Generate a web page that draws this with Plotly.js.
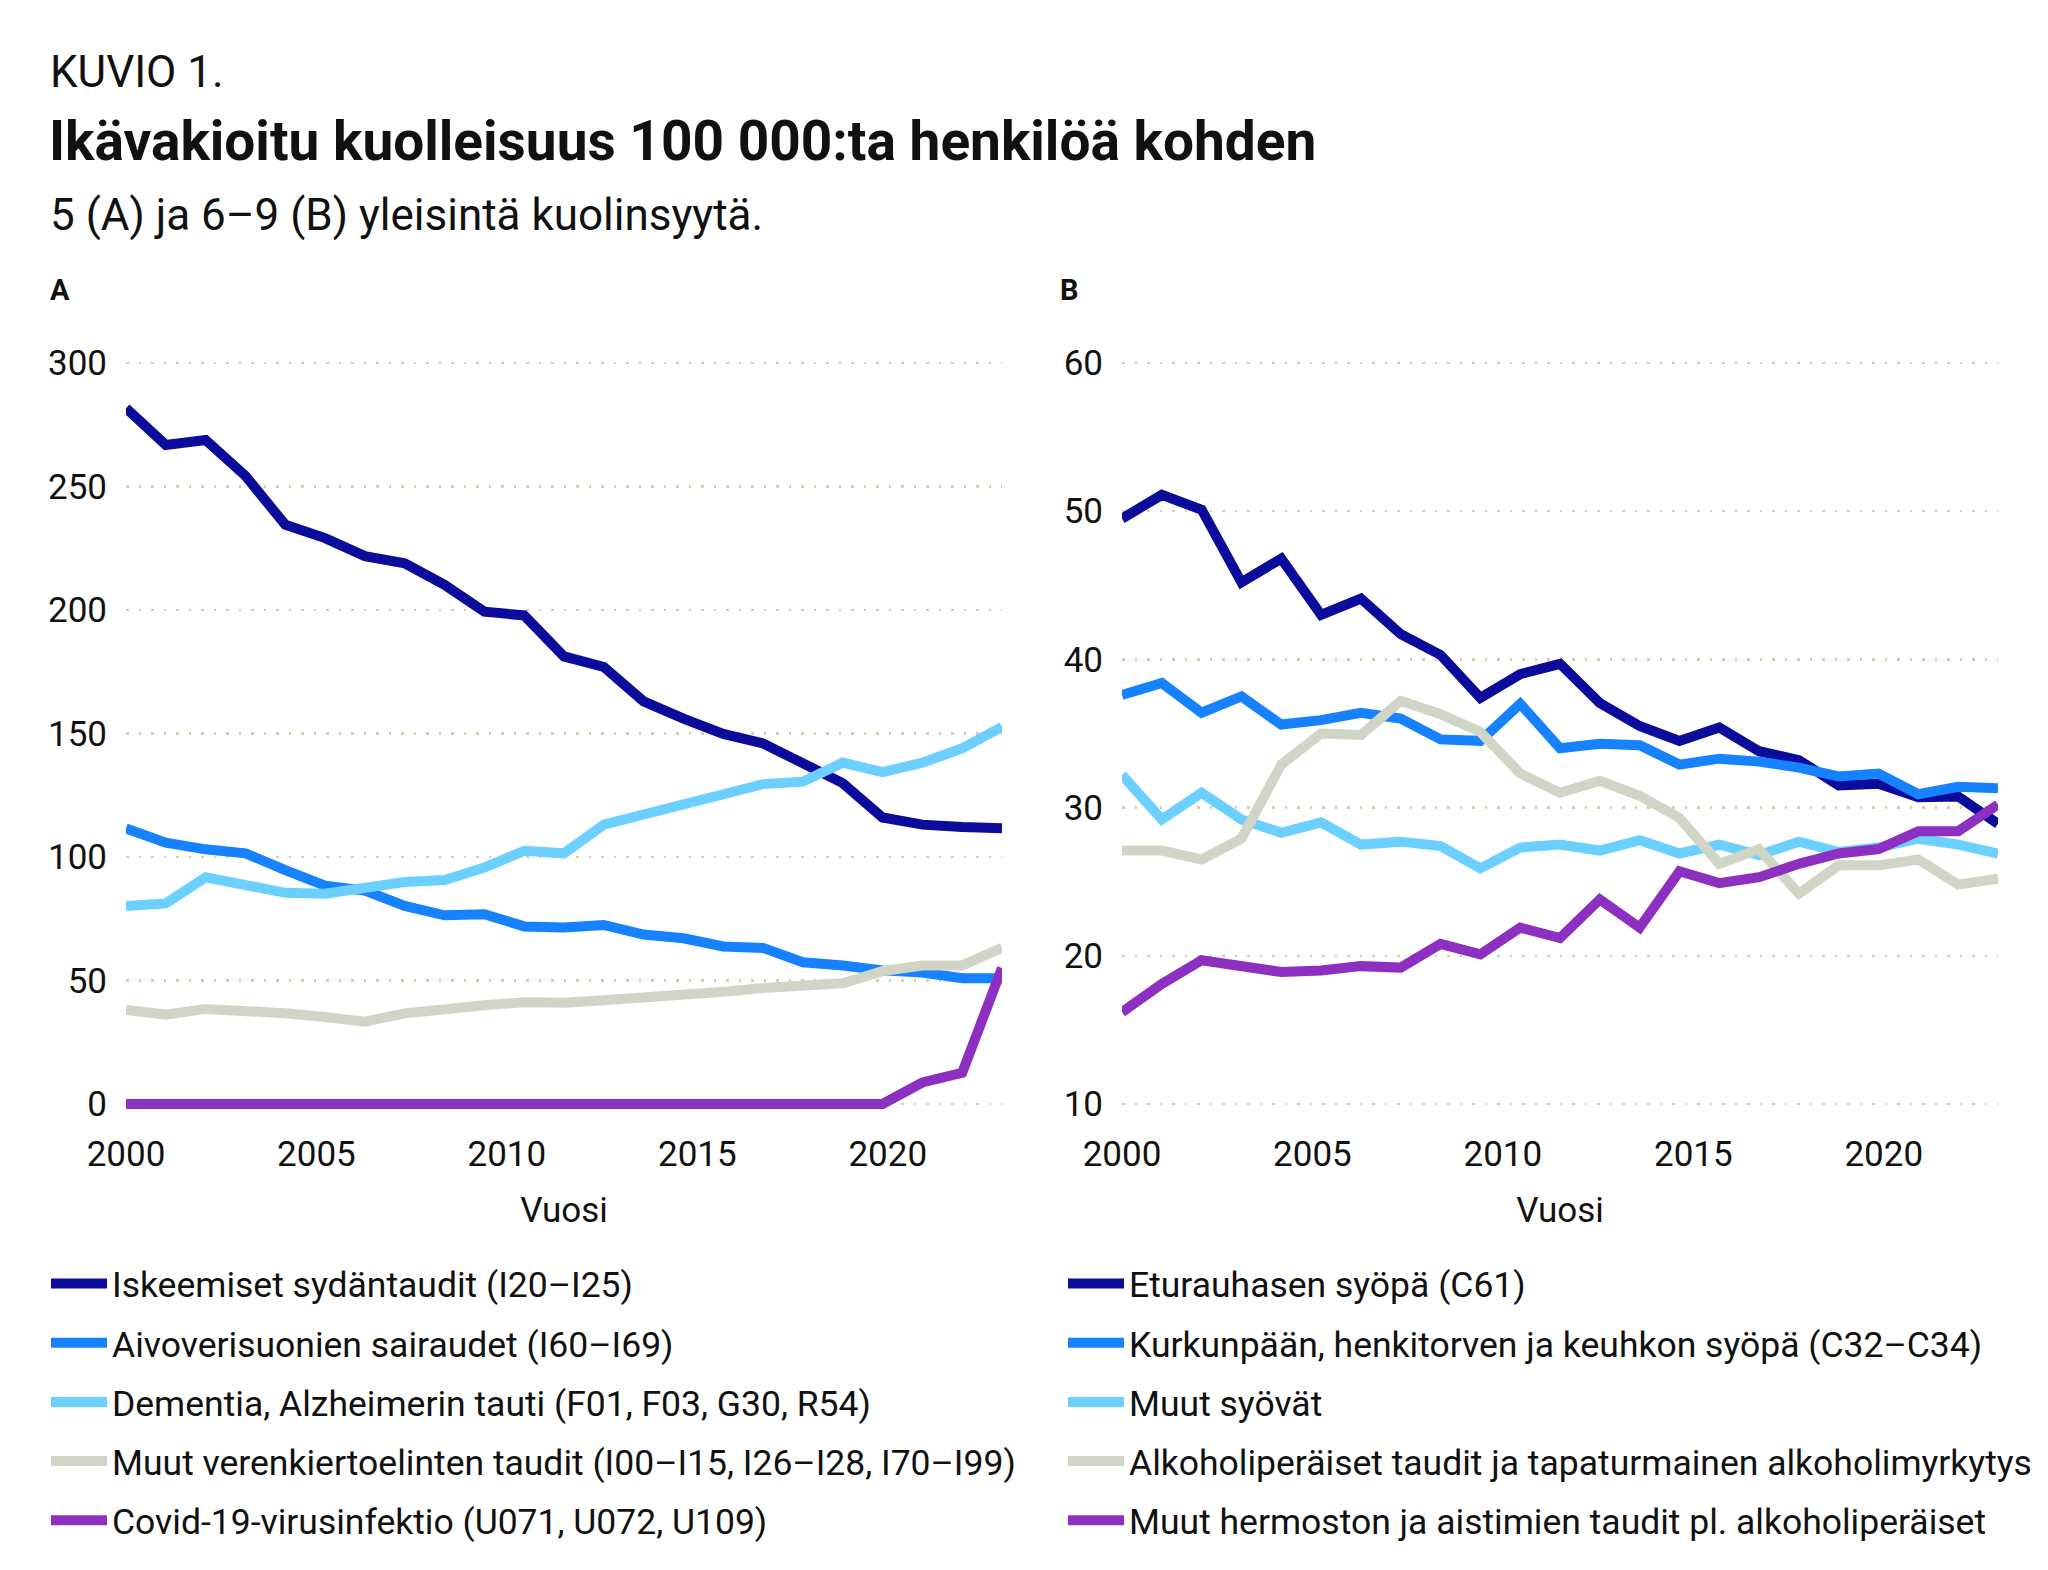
<!DOCTYPE html>
<html>
<head>
<meta charset="utf-8">
<script src="https://cdn.plot.ly/plotly-3.0.1.min.js"></script>
<style>
  html, body { margin: 0; padding: 0; background: #ffffff; }
  #chart { width: 2048px; height: 1570px; }
</style>
</head>
<body>
<div id="chart"></div>
<script>
// ---- Data ----
const years = [2000, 2001, 2002, 2003, 2004, 2005, 2006, 2007, 2008, 2009, 2010, 2011,
               2012, 2013, 2014, 2015, 2016, 2017, 2018, 2019, 2020, 2021, 2022];
const tickYears = [2000, 2005, 2010, 2015, 2020];

// Panel A
const namesA = [
  "Iskeemiset sydäntaudit (I20–I25)",
  "Aivoverisuonien sairaudet (I60–I69)",
  "Dementia, Alzheimerin tauti (F01, F03, G30, R54)",
  "Muut verenkiertoelinten taudit (I00–I15, I26–I28, I70–I99)",
  "Covid-19-virusinfektio (U071, U072, U109)"
];
const ischemic = [281.7, 266.8, 268.8, 254.3, 234.5, 229.1, 221.8, 218.9, 210.2, 199.3, 197.8, 181.2,
                  176.9, 163.0, 156.0, 149.8, 146.0, 138.2, 129.9, 116.0, 113.1, 112.1, 111.6];
const stroke = [111.6, 105.8, 103.1, 101.5, 94.7, 88.4, 86.4, 80.2, 76.4, 76.8, 71.9, 71.5,
                72.5, 68.6, 67.1, 63.8, 63.2, 57.4, 56.1, 54.1, 53.2, 50.9, 50.9];
const dementia = [80.2, 81.2, 91.8, 88.9, 85.5, 85.1, 88.0, 89.9, 90.7, 95.7, 102.5, 101.5,
                  113.1, 117.4, 121.8, 125.1, 129.5, 130.5, 138.2, 134.4, 138.2, 144.0, 152.7];
const otherCirc = [38.1, 36.2, 38.5, 38.1, 36.7, 35.2, 33.3, 36.7, 38.7, 40.0, 41.2, 41.0,
                   42.0, 42.9, 44.5, 45.4, 47.0, 48.3, 48.9, 53.8, 56.1, 56.1, 63.2];
const covid = [0, 0, 0, 0, 0, 0, 0, 0, 0, 0, 0, 0,
               0, 0, 0, 0, 0, 0, 0, 0, 8.7, 12.6, 55.1];
const ticksA = [0, 50, 100, 150, 200, 250, 300];

// Panel B
const namesB = [
  "Eturauhasen syöpä (C61)",
  "Kurkunpään, henkitorven ja keuhkon syöpä (C32–C34)",
  "Muut syövät",
  "Alkoholiperäiset taudit ja tapaturmainen alkoholimyrkytys",
  "Muut hermoston ja aistimien taudit pl. alkoholiperäiset"
];
const prostate = [49.5, 51.1, 50.1, 45.2, 46.8, 43.0, 44.1, 41.7, 40.3, 37.4, 39.0, 39.7,
                  37.05, 35.5, 34.5, 35.4, 33.8, 33.2, 31.5, 31.6, 30.7, 30.75, 28.9];
const lung = [37.6, 38.4, 36.4, 37.5, 35.6, 35.9, 36.4, 36.0, 34.6, 34.5, 37.0, 34.0,
              34.3, 34.2, 32.9, 33.3, 33.1, 32.7, 32.1, 32.3, 30.9, 31.4, 31.3];
const otherCancer = [32.2, 29.2, 31.0, 29.2, 28.3, 29.0, 27.5, 27.7, 27.4, 25.9, 27.3, 27.5,
                     27.1, 27.8, 26.9, 27.5, 26.8, 27.7, 27.0, 27.3, 27.9, 27.5, 26.9];
const alcohol = [27.1, 27.1, 26.5, 27.9, 32.9, 35.0, 34.9, 37.2, 36.3, 35.1, 32.3, 31.0,
                 31.8, 30.8, 29.3, 26.2, 27.2, 24.2, 26.1, 26.1, 26.5, 24.8, 25.2];
const nervous = [16.2, 18.1, 19.7, 19.3, 18.9, 19.0, 19.3, 19.2, 20.8, 20.1, 21.9, 21.2,
                 23.8, 21.9, 25.7, 24.9, 25.3, 26.2, 26.9, 27.2, 28.4, 28.4, 30.2];
const ticksB = [10, 20, 30, 40, 50, 60];

const colors = ["#0b0b9c", "#1782ff", "#6bd0ff", "#d1d5c5", "#8d2fc0"];

// ---- Styling ----
const FONT = "Roboto, Lato, sans-serif";
const TXT = "#111111";
const W = 2048, H = 1570;
const px = v => v / W;
const py = v => 1 - v / H;

const seriesA = [ischemic, stroke, dementia, otherCirc, covid];
const seriesB = [prostate, lung, otherCancer, alcohol, nervous];

const traces = [];
seriesA.forEach((s, i) => traces.push({
  type: "scatter", mode: "lines", x: years, y: s, name: namesA[i],
  xaxis: "x", yaxis: "y", legend: "legend", legendgroup: "a" + i,
  line: { color: colors[i], width: 10, shape: "linear" }, hoverinfo: "skip"
}));
seriesB.forEach((s, i) => traces.push({
  type: "scatter", mode: "lines", x: years, y: s, name: namesB[i],
  xaxis: "x2", yaxis: "y2", legend: "legend2", legendgroup: "b" + i,
  line: { color: colors[i], width: 10, shape: "linear" }, hoverinfo: "skip"
}));
// empty helper traces so that the year tick axes are drawn (no visible marks)
traces.push({ type: "scatter", mode: "lines", x: tickYears, y: tickYears.map(() => null),
  xaxis: "x3", yaxis: "y", showlegend: false, hoverinfo: "skip" });
traces.push({ type: "scatter", mode: "lines", x: tickYears, y: tickYears.map(() => null),
  xaxis: "x4", yaxis: "y2", showlegend: false, hoverinfo: "skip" });

const domY = [py(1125), py(340)];
const domXA = [px(126), px(1002)];
const domXB = [px(1122), px(1998)];

const gridStyle = {
  showgrid: true, gridcolor: "#d6cfae", gridwidth: 2.5, griddash: "2.5px,10px",
  zeroline: false, showline: false, ticks: "",
  tickfont: { family: FONT, size: 35, color: TXT }, ticklabelstandoff: 18
};

const tickAxis = (overlay, dom) => ({
  overlaying: overlay, domain: dom, range: [2000, 2023], tickmode: "array",
  tickvals: tickYears, ticktext: tickYears.map(String), showgrid: false, zeroline: false,
  showline: false, ticks: "", side: "bottom", anchor: overlay === "x" ? "y" : "y2",
  tickfont: { family: FONT, size: 35, color: TXT }, ticklabelstandoff: 5,
  title: { text: "Vuosi", font: { family: FONT, size: 35, color: TXT }, standoff: 23 }
});

const legendStyle = (x) => ({
  x: x, y: py(1254), xanchor: "left", yanchor: "top", orientation: "v",
  font: { family: FONT, size: 35.5, color: TXT }, bgcolor: "rgba(0,0,0,0)",
  tracegroupgap: 10, itemwidth: 56, traceorder: "grouped"
});

const layout = {
  width: W, height: H, paper_bgcolor: "#ffffff", plot_bgcolor: "#ffffff",
  margin: { l: 0, r: 0, t: 0, b: 0 }, showlegend: true,
  font: { family: FONT, color: TXT },
  xaxis: { domain: domXA, range: [2000, 2022], visible: false, anchor: "y" },
  xaxis2: { domain: domXB, range: [2000, 2022], visible: false, anchor: "y2" },
  xaxis3: tickAxis("x", domXA),
  xaxis4: tickAxis("x2", domXB),
  yaxis: Object.assign({ domain: domY, anchor: "x", range: [-8.5, 309.3], tickmode: "array", tickvals: ticksA }, gridStyle),
  yaxis2: Object.assign({ domain: domY, anchor: "x2", range: [8.58, 61.55], tickmode: "array", tickvals: ticksB }, gridStyle),
  legend: legendStyle(px(46)),
  legend2: legendStyle(px(1063)),
  annotations: [
    { text: "KUVIO 1.", x: px(48), y: py(72), xref: "paper", yref: "paper", xanchor: "left", yanchor: "middle",
      showarrow: false, font: { family: FONT, size: 44, color: TXT } },
    { text: "<b>Ikävakioitu kuolleisuus 100 000:ta henkilöä kohden</b>", x: px(47), y: py(141), xref: "paper", yref: "paper",
      xanchor: "left", yanchor: "middle", showarrow: false, font: { family: FONT, size: 55, color: TXT } },
    { text: "5 (A) ja 6–9 (B) yleisintä kuolinsyytä.", x: px(48), y: py(215), xref: "paper", yref: "paper",
      xanchor: "left", yanchor: "middle", showarrow: false, font: { family: FONT, size: 44, color: TXT } },
    { text: "<b>A</b>", x: px(48), y: py(290), xref: "paper", yref: "paper", xanchor: "left", yanchor: "middle",
      showarrow: false, font: { family: FONT, size: 29, color: TXT } },
    { text: "<b>B</b>", x: px(1058), y: py(290), xref: "paper", yref: "paper", xanchor: "left", yanchor: "middle",
      showarrow: false, font: { family: FONT, size: 29, color: TXT } }
  ]
};

Plotly.newPlot("chart", traces, layout, { staticPlot: true, displayModeBar: false });
</script>
</body>
</html>
